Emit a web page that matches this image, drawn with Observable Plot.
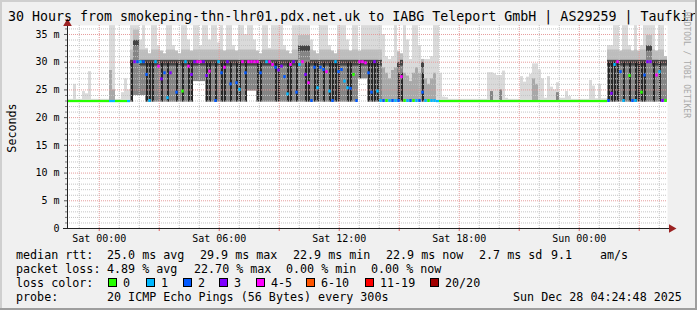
<!DOCTYPE html>
<html><head><meta charset="utf-8">
<script src="https://cdn.jsdelivr.net/npm/d3@7"></script>
<script src="https://cdn.jsdelivr.net/npm/@observablehq/plot@0.6"></script>
<style>
html,body{margin:0;padding:0;background:#f0f0f0;}
#wrap{position:relative;width:697px;height:310px;background:#f0f0f0;overflow:hidden;}
#wrap svg{position:absolute;left:0;top:0;}
</style></head><body><div id="wrap"></div>
<script>
// ---- time axis: hours relative to Sat 00:00; graph covers Fri 22:24:48 .. Sun 04:24:48 ----
const T0 = -1.58667;
const STEP = 0.15;          // hours per bin
const N = 200;
const T1 = T0 + N * STEP;
const Y_MAX = 36.62;

// median rtt (ms) per bin
const med = [
 22.9,22.9,22.9,22.9,22.9,22.9,22.9,22.9,22.9,22.9,
 22.9,22.9,22.9,22.9,22.9,22.9,22.9,22.9,22.9,22.9,
 22.9,30,30,30,30,30,27.7,23,29.5,30,
 29.2,26.9,28,23.5,28,29.5,24.5,30,24.7,30,
 29.2,27.7,30,30,30,30,27.5,28.3,30,23,
 30,28,29,30,26,30,26.2,25,30,28,
 30,30,30,30,28,30,30,30,29.5,29,
 28.5,29.2,27.3,24.2,29.5,30,24.5,29.5,30,27.7,
 26.2,23,29,25.3,29,28.6,28.2,24.7,23,30,
 28.2,28.6,26.5,25.3,25.2,27.7,23,30,30,29.8,
 28,24.5,30,24.7,23,23,23,23,23,23,
 23,27.3,23,23,23,23,23,23,24.5,23,
 23,23,23,22.9,22.9,22.9,22.9,22.9,22.9,22.9,
 22.9,22.9,22.9,22.9,22.9,22.9,22.9,22.9,22.9,22.9,
 22.9,22.9,22.9,22.9,22.9,22.9,22.9,22.9,22.9,22.9,
 22.9,22.9,22.9,22.9,22.9,22.9,22.9,22.9,22.9,22.9,
 22.9,22.9,22.9,22.9,22.9,22.9,22.9,22.9,22.9,22.9,
 22.9,22.9,22.9,22.9,22.9,22.9,22.9,22.9,22.9,22.9,
 23,24.3,29.5,30,28.2,23,29.5,27.5,23,23,
 29.8,24.5,27.6,30,30,29.5,27.6,28.2,23,23
];
// loss colour bucket per bin (index into lossLabels, -1 = not visible)
const loss = [
 0,0,0,0,0,0,0,0,0,0,
 0,0,0,0,1,1,0,0,0,0,
 1,-1,3,2,1,2,2,1,-1,1,
 4,3,2,1,3,-1,2,-1,0,1,
 4,3,3,4,4,3,3,4,-1,2,
 1,2,4,3,2,-1,2,1,4,2,
 4,4,4,4,2,-1,1,4,4,2,
 3,3,2,1,4,3,2,1,4,3,
 4,2,2,1,2,2,4,1,2,1,
 2,2,1,1,2,0,2,4,4,4,
 2,2,3,1,1,2,0,1,2,1,
 2,4,0,1,2,0,1,2,2,1,
 0,1,1,1,0,0,0,0,0,0,
 0,0,0,0,0,0,0,0,0,0,
 0,0,0,0,0,0,0,0,0,0,
 0,0,0,0,0,0,0,0,0,0,
 0,0,0,0,0,0,0,0,0,0,
 0,0,0,0,0,0,0,0,0,0,
 2,3,1,4,2,1,-1,0,2,1,
 -1,0,2,3,3,-1,4,1,3,0
];
// lowest ping (ms) per bin
const lo = [
 22.8,22.8,22.8,22.8,22.8,22.8,22.8,22.8,22.8,22.8,
 22.8,22.8,22.8,22.8,22.8,22.8,22.8,22.8,22.8,22.8,
 22.8,22.8,24,24,24,24,22.8,22.8,22.8,22.8,
 22.8,22.8,22.8,22.8,22.8,22.8,22.8,22.8,22.8,22.8,
 22.8,22.8,26.5,26.5,26.5,26.5,22.8,22.8,22.8,22.8,
 22.8,22.8,22.8,22.8,22.8,22.8,22.8,22.8,22.8,22.8,
 24.8,24.8,24.8,22.8,22.8,22.8,22.8,22.8,22.8,22.8,
 22.8,22.8,22.8,22.8,22.8,22.8,22.8,22.8,22.8,22.8,
 22.8,22.8,22.8,22.8,22.8,22.8,22.8,22.8,22.8,22.8,
 22.8,22.8,22.8,22.8,22.8,22.8,22.8,27,27,27,
 22.8,22.8,22.8,22.8,22.8,22.8,22.8,22.8,22.8,22.8,
 22.8,22.8,22.8,22.8,22.8,22.8,22.8,22.8,22.8,22.8,
 22.8,22.8,22.8,22.8,22.8,22.8,22.8,22.8,22.8,22.8,
 22.8,22.8,22.8,22.8,22.8,22.8,22.8,22.8,22.8,22.8,
 22.8,22.8,22.8,22.8,22.8,22.8,22.8,22.8,22.8,22.8,
 22.8,22.8,22.8,22.8,22.8,22.8,22.8,22.8,22.8,22.8,
 22.8,22.8,22.8,22.8,22.8,22.8,22.8,22.8,22.8,22.8,
 22.8,22.8,22.8,22.8,22.8,22.8,22.8,22.8,22.8,22.8,
 22.8,22.8,22.8,22.8,22.8,22.8,22.8,22.8,22.8,22.8,
 22.8,22.8,22.8,22.8,22.8,22.8,22.8,22.8,22.8,22.8
];
// highest ping (ms) per bin (outer smoke)
const hi = [
 23.3,23.3,26.0,23.3,23.3,24.7,24.3,28.3,23.3,23.3,
 23.3,23.3,23.3,23.3,36.6,36.6,23.3,23.3,24.5,27,
 25,36.6,36.6,36.6,34,36.6,32.5,31.5,36.6,36.6,
 33,32,31.5,36.6,36.6,33,32,31.5,36.6,36.6,
 34,32,36.6,36.6,33,36.6,36.6,34,36.6,36.6,
 33.5,36.6,32,36.6,36.6,33,32,36.6,36.6,35,
 36.6,36.6,34,32,31.5,36.6,36.6,32.5,36.6,36.6,
 36.6,36.6,33,32,31.5,36.6,36.6,36.6,36.6,36.6,
 36.6,34,32,31.5,36.6,36.6,36.6,33,32,31.5,
 36.6,36.6,36.6,34,32,36.6,36.6,32,36.6,36.6,
 36.6,36.6,36.6,36.6,36.6,35,31,30.5,31,36.6,
 32,31.5,36.6,34,30.5,36.6,36.6,33,30.5,30.5,
 30.5,31,36.6,36.6,28,23.7,23.6,23.3,23.3,23.3,
 23.3,23.3,23.3,23.3,23.3,23.3,23.3,23.3,23.3,23.3,
 28.1,28.1,27.9,27.6,27.6,28.4,23.5,23.3,23.3,23.3,
 23.3,27.4,26.4,27.3,27.8,29.7,29.7,28.6,27.0,23.5,
 27.4,25.5,25.0,26.3,23.5,23.5,24.7,23.8,23.3,23.3,
 23.3,23.3,23.3,23.3,26.7,25.7,23.4,26.0,23.4,23.4,
 33,33,36.6,36.6,32,36.6,36.6,33,32,36.6,
 32,33,36.6,36.6,36.6,36.6,32,36.6,36.6,31
];
// top of the denser (mid-grey) smoke per bin, 0 = none
const mid = [
 0,0,0,0,0,0,0,0,0,0,
 0,0,0,0,28.5,25,0,0,0,0,
 0,30.4,34,34,30.4,30.4,30.4,30.4,30.4,30.4,
 30.4,30.4,30.4,30.4,30.4,30.4,30.4,30.4,30.4,30.4,
 30.4,30.4,30.4,30.4,30.4,30.4,30.4,30.4,30.4,30.4,
 30.4,30.4,30.4,30.4,30.4,30.4,30.4,30.4,30.4,30.4,
 30.4,30.4,30.4,30.4,30.4,30.4,30.4,30.4,30.4,30.4,
 30.4,30.4,30.4,30.4,30.4,30.4,30.4,33,33,33,
 33,30.4,30.4,30.4,30.4,30.4,30.4,30.4,30.4,30.4,
 30.4,30.4,30.4,30.4,30.4,30.4,30.4,30.4,30.4,30.4,
 30.4,30.4,30.4,30.4,30.4,29,28,27,28.5,29,
 30,30.4,28,27.5,26.5,28,29,28,30,27,
 26,27,28,0,0,0,0,0,0,0,
 0,0,0,0,0,0,0,0,0,0,
 0,24.7,0,0,25,0,0,0,0,0,
 0,0,0,0,0,27,26,0,0,0,
 0,0,0,24.5,0,0,0,0,0,0,
 0,0,0,0,0,0,0,0,0,0,
 30.4,30.4,30.4,30.4,30.4,30.4,30.4,30.4,30.4,30.4,
 30.4,30.4,30.4,33,33,30.4,30.4,30.4,30.4,30.4
];
// top of the darkest smoke core (median pair straddling both paths), 0 = none
const dark = [
 0,0,0,0,0,0,0,0,0,0,
 0,0,0,0,0,0,0,0,0,0,
 0,30,0,0,0,0,30,30,30,0,
 0,30,0,30,0,0,30,0,30,0,
 30,30,0,0,0,0,30,30,0,30,
 0,30,30,0,30,0,30,30,0,30,
 0,0,0,30,30,0,0,0,0,30,
 30,0,0,30,30,0,30,0,0,30,
 30,0,30,30,0,30,0,30,30,30,
 30,0,0,30,30,0,0,30,0,0,
 30,30,30,30,0,0,0,0,0,0,
 28,28,0,0,0,0,0,0,28,0,
 0,0,0,0,0,0,0,0,0,0,
 0,0,0,0,0,0,0,0,0,0,
 0,0,0,0,0,0,0,0,0,0,
 0,0,0,0,0,0,0,0,0,0,
 0,0,0,0,0,0,0,0,0,0,
 0,0,0,0,0,0,0,0,0,0,
 30,30,30,30,0,30,0,30,0,30,
 30,30,30,0,0,30,0,30,0,0
];

const lossLabels = ["0","1","2","3","4-5","6-10","11-19","20/20"];
const lossColors = ["#26ff00","#00b8ff","#0059ff","#7e00ff","#ff00ff","#ff5500","#ff0000","#a10000"];
const xTickHours = [0, 6, 12, 18, 24];
const xTickLabels = ["Sat 00:00","Sat 06:00","Sat 12:00","Sat 18:00","Sun 00:00"];
const yTickValues = [0,5,10,15,20,25,30,35];
const yTickLabels = ["0","5 m","10 m","15 m","20 m","25 m","30 m","35 m"];

const titleText = "30 Hours from smokeping-thn-lhr01.pdx.net.uk to IABG Teleport GmbH | AS29259 | Taufkirchen";
const yLabel = "Seconds";
const statRows = [
  [["median rtt:",16],["25.0 ms avg",107],["29.9 ms max",200],["22.9 ms min",293],["22.9 ms now",386],["2.7 ms sd",479],["9.1",551],["am/s",600]],
  [["packet loss:",16],["4.89 % avg",107],["22.70 % max",194],["0.00 % min",286],["0.00 % now",371]],
  [["loss color:",16]],
  [["probe:",16],["20 ICMP Echo Pings (56 Bytes) every 300s",107],["Sun Dec 28 04:24:48 2025",513]]
];
const legendBoxX = [108,146,183,219,256,306,365,430];

// ---- build bins ----
const bins = d3.range(N).map(i => ({
  x1: T0 + i * STEP, x2: T0 + (i + 1) * STEP, xm: T0 + (i + 0.5) * STEP,
  med: med[i], loss: loss[i], lo: lo[i], hi: hi[i], mid: mid[i], dark: dark[i]
}));
const flat = d => d.med < 22.95;

const hourGrid = d3.range(-1, 29);
const minorX = hourGrid.filter(h => h % 3 !== 0);
const majorX = hourGrid.filter(h => h % 3 === 0);
const msGrid = d3.range(1, 37);
const minorY = msGrid.filter(v => v % 5 !== 0);
const majorY = msGrid.filter(v => v % 5 === 0);

const chart = Plot.plot({
  width: 697, height: 245,
  marginLeft: 67, marginRight: 30, marginTop: 25, marginBottom: 17,
  style: {background: "transparent", fontFamily: "'DejaVu Sans Mono', monospace", fontSize: "10px", overflow: "visible", color: "#000"},
  x: {domain: [T0, T1], axis: null},
  y: {domain: [0, Y_MAX], axis: null},
  marks: [
    Plot.frame({fill: "white", stroke: null}),
    // outer smoke
    Plot.rectY(bins, {x1: "x1", x2: "x2", y1: "lo", y2: "hi", fill: "#dadada"}),
    // denser smoke just above the upper path
    Plot.rectY(bins.filter(d => d.mid >= 30), {x1: "x1", x2: "x2", y1: "mid", y2: d => Math.min(d.hi, d.mid + 1.8), fill: "#bdbdbd"}),
    // denser smoke
    Plot.rectY(bins.filter(d => d.mid > 0), {x1: "x1", x2: "x2", y1: "lo", y2: "mid",
      fill: d => (d.mid < 30 && d.hi > 29.5) ? "#a8a8a8" : "#858585"}),
    // dense band at the upper path
    Plot.rectY(bins.filter(d => d.mid >= 30), {x1: "x1", x2: "x2", y1: d => d.mid - 1.1, y2: d => d.mid - 0.1, fill: "#444"}),
    // dark core
    Plot.ruleX(bins.filter(d => d.dark > 0), {x: "xm", y1: "lo", y2: "dark", stroke: "#1c1c1c", strokeWidth: 1.8}),
    // grid
    Plot.ruleY(minorY, {stroke: "#c4c4c4", strokeDasharray: "1,1"}),
    Plot.ruleX(minorX, {stroke: "#c4c4c4", strokeDasharray: "1,1"}),
    Plot.ruleY(majorY, {stroke: "#e59c9c", strokeDasharray: "1,1"}),
    Plot.ruleX(majorX, {stroke: "#e59c9c", strokeDasharray: "1,1"}),
    // median coloured by loss
    Plot.rectY(bins.filter(d => d.loss >= 0 && flat(d)), {x1: "x1", x2: "x2", y1: d => d.med - 0.2, y2: d => d.med + 0.2, fill: d => lossColors[d.loss]}),
    Plot.rectY(bins.filter(d => d.loss >= 0 && !flat(d)), {x1: "x1", x2: "x2", insetLeft: 0.3, insetRight: 0.3,
      y1: d => d.med - 0.27, y2: d => d.med + 0.27, fill: d => lossColors[d.loss]}),
    // axes
    Plot.axisY({ticks: minorY, tickSize: 2, tickFormat: () => "", stroke: "#777"}),
    Plot.axisY({ticks: yTickValues, tickSize: 3, tickPadding: 5, stroke: "#555", fill: "#000",
      tickFormat: v => yTickLabels[yTickValues.indexOf(v)]}),
    Plot.axisX({ticks: majorX.filter(h => h >= 0), tickSize: 3, tickFormat: () => "", stroke: "#e06060"}),
    Plot.axisX({ticks: xTickHours, tickSize: 0, tickPadding: 6, fill: "#000",
      tickFormat: h => xTickLabels[xTickHours.indexOf(h)]}),
    Plot.ruleX([T0], {stroke: "#222", insetTop: -3}),
    Plot.ruleY([0], {stroke: "#222", insetLeft: -4, insetRight: -4}),
    Plot.dot([T0], {x: d => d, y: () => Y_MAX, symbol: "triangle", r: 3.2, fill: "#9b2222", stroke: null, dy: -2}),
    Plot.dot([0], {x: () => T1, y: () => 0, symbol: "triangle", r: 3.2, rotate: 90, fill: "#9b2222", stroke: null, dx: 4})
  ]
});
const wrap = document.getElementById("wrap");
wrap.appendChild(chart);

// ---- title, labels and legend ----
const ov = d3.create("svg").attr("width", 697).attr("height", 310)
  .style("font-family", "'DejaVu Sans Mono', monospace");
ov.append("text").attr("x", 8).attr("y", 21).attr("font-size", 13.3).attr("fill", "#000")
  .style("white-space", "pre").text(titleText);
ov.append("text").attr("transform", "translate(684,12) rotate(90)").attr("font-size", 8)
  .attr("fill", "#a8a8a8").text("RRDTOOL / TOBI OETIKER");
ov.append("text").attr("transform", "translate(15.5,128) rotate(-90)").attr("text-anchor", "middle")
  .attr("font-size", 11.7).attr("fill", "#000").text(yLabel);
const rowY = [258.5, 272.5, 286.5, 300.5];
statRows.forEach((row, r) => {
  row.forEach(([s, x]) => {
    ov.append("text").attr("x", x).attr("y", rowY[r]).attr("font-size", 11.7).attr("fill", "#000")
      .style("white-space", "pre").text(s);
  });
});
lossLabels.forEach((lab, k) => {
  ov.append("rect").attr("x", legendBoxX[k] + 0.5).attr("y", 278.5).attr("width", 8).attr("height", 8)
    .attr("fill", lossColors[k]).attr("stroke", "#000").attr("stroke-width", 1);
  ov.append("text").attr("x", legendBoxX[k] + 15).attr("y", rowY[2]).attr("font-size", 11.7)
    .attr("fill", "#000").text(lab);
});
// frame shading
ov.append("rect").attr("x", 0).attr("y", 0).attr("width", 697).attr("height", 2).attr("fill", "#cfcfcf");
ov.append("rect").attr("x", 0).attr("y", 0).attr("width", 2).attr("height", 310).attr("fill", "#cfcfcf");
ov.append("rect").attr("x", 0).attr("y", 308).attr("width", 697).attr("height", 2).attr("fill", "#9e9e9e");
ov.append("rect").attr("x", 695).attr("y", 0).attr("width", 2).attr("height", 310).attr("fill", "#9e9e9e");
wrap.appendChild(ov.node());
</script></body></html>
